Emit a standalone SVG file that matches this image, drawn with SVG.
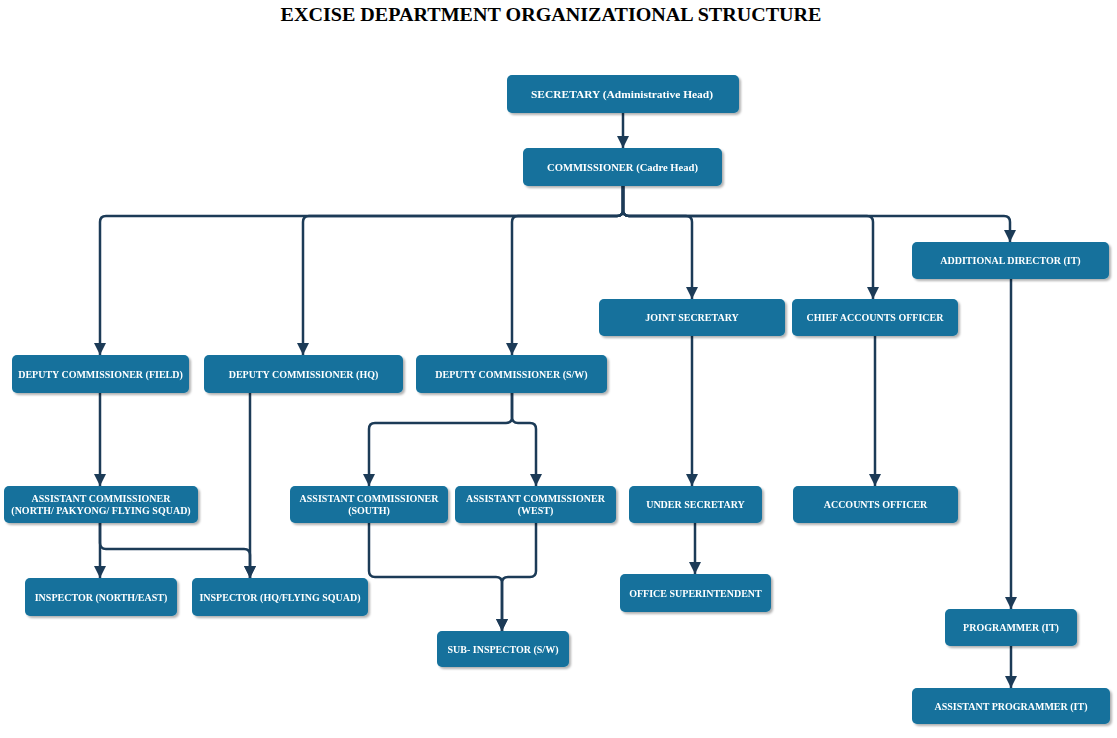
<svg xmlns="http://www.w3.org/2000/svg" width="1117" height="738" viewBox="0 0 1117 738">
<style>
.box{fill:#13719c;}
.lbl{font-family:"Liberation Serif","Times New Roman",serif;font-weight:bold;font-size:10px;fill:#ffffff;text-anchor:middle;}
.title{font-family:"Liberation Serif","Times New Roman",serif;font-weight:bold;font-size:19px;fill:#000;text-anchor:middle;}
.edge{fill:none;stroke:#1c3b57;stroke-width:2.5;marker-end:url(#arr);}
</style>
<defs>
<marker id="arr" markerUnits="userSpaceOnUse" markerWidth="12" markerHeight="12" viewBox="0 0 10 10" refX="10" refY="5" orient="auto">
<path d="M0,0 L10,5 L0,10 z" fill="#1c3b57"/>
</marker>
<filter id="sh" x="-10%" y="-20%" width="120%" height="150%">
<feDropShadow dx="2" dy="2" stdDeviation="1.2" flood-color="#000" flood-opacity="0.3"/>
</filter>
</defs>
<rect width="1117" height="738" fill="#ffffff"/>
<text class="title" x="551" y="21" textLength="541" lengthAdjust="spacingAndGlyphs">EXCISE DEPARTMENT ORGANIZATIONAL STRUCTURE</text>

<g id="connectors">
<path class="edge" d="M623,113 V148"/>
<path class="edge" d="M623,186 V210 Q623,216 617,216 H106 Q100,216 100,222 V355"/>
<path class="edge" d="M623,186 V210 Q623,216 617,216 H309 Q303,216 303,222 V355"/>
<path class="edge" d="M623,186 V210 Q623,216 617,216 H518 Q512,216 512,222 V355"/>
<path class="edge" d="M623,186 V210 Q623,216 629,216 H686 Q692,216 692,222 V299"/>
<path class="edge" d="M623,186 V210 Q623,216 629,216 H867 Q873,216 873,222 V299"/>
<path class="edge" d="M623,186 V210 Q623,216 629,216 H1004 Q1010,216 1010,222 V242"/>
<path class="edge" d="M100,393 V486"/>
<path class="edge" d="M250,393 V578"/>
<path class="edge" d="M100,523 V578"/>
<path class="edge" d="M100,523 V543 Q100,549 106,549 H244 Q250,549 250,555 V578"/>
<path class="edge" d="M512,393 V417 Q512,423 506,423 H375 Q369,423 369,429 V486"/>
<path class="edge" d="M512,393 V417 Q512,423 518,423 H530 Q536,423 536,429 V486"/>
<path class="edge" d="M369,523 V571 Q369,577 375,577 H496 Q502,577 502,583 V631"/>
<path class="edge" d="M536,523 V571 Q536,577 530,577 H508 Q502,577 502,583 V631"/>
<path class="edge" d="M692,336 V486"/>
<path class="edge" d="M695,523 V574"/>
<path class="edge" d="M875,336 V486"/>
<path class="edge" d="M1011,279 V609"/>
<path class="edge" d="M1011,646 V688"/>
</g>

<g id="secretary" filter="url(#sh)"><rect class="box" x="507" y="75" width="232" height="38" rx="5"/><text class="lbl" x="622" y="97.5" textLength="182" lengthAdjust="spacingAndGlyphs">SECRETARY (Administrative Head)</text></g>
<g id="commissioner" filter="url(#sh)"><rect class="box" x="523" y="148" width="199" height="38" rx="5"/><text class="lbl" x="622.5" y="170.5" textLength="151" lengthAdjust="spacingAndGlyphs">COMMISSIONER (Cadre Head)</text></g>
<g id="dc_field" filter="url(#sh)"><rect class="box" x="12" y="355" width="177" height="38" rx="5"/><text class="lbl" x="100.5" y="377.5">DEPUTY COMMISSIONER (FIELD)</text></g>
<g id="dc_hq" filter="url(#sh)"><rect class="box" x="204" y="355" width="199" height="38" rx="5"/><text class="lbl" x="303.5" y="377.5">DEPUTY COMMISSIONER (HQ)</text></g>
<g id="dc_sw" filter="url(#sh)"><rect class="box" x="416" y="355" width="191" height="38" rx="5"/><text class="lbl" x="511.5" y="377.5">DEPUTY COMMISSIONER (S/W)</text></g>
<g id="joint_secretary" filter="url(#sh)"><rect class="box" x="599" y="299" width="186" height="37" rx="5"/><text class="lbl" x="692" y="321">JOINT SECRETARY</text></g>
<g id="chief_accounts" filter="url(#sh)"><rect class="box" x="792" y="299" width="166" height="37" rx="5"/><text class="lbl" x="875" y="321">CHIEF ACCOUNTS OFFICER</text></g>
<g id="additional_director" filter="url(#sh)"><rect class="box" x="912" y="242" width="197" height="37" rx="5"/><text class="lbl" x="1010.5" y="264">ADDITIONAL DIRECTOR (IT)</text></g>
<g id="ac_north" filter="url(#sh)"><rect class="box" x="4" y="486" width="194" height="37" rx="5"/><text class="lbl" x="101" y="502">ASSISTANT COMMISSIONER</text><text class="lbl" x="101" y="514">(NORTH/ PAKYONG/ FLYING SQUAD)</text></g>
<g id="ac_south" filter="url(#sh)"><rect class="box" x="290" y="486" width="158" height="37" rx="5"/><text class="lbl" x="369" y="502">ASSISTANT COMMISSIONER</text><text class="lbl" x="369" y="514">(SOUTH)</text></g>
<g id="ac_west" filter="url(#sh)"><rect class="box" x="455" y="486" width="161" height="37" rx="5"/><text class="lbl" x="535.5" y="502">ASSISTANT COMMISSIONER</text><text class="lbl" x="535.5" y="514">(WEST)</text></g>
<g id="under_secretary" filter="url(#sh)"><rect class="box" x="629" y="486" width="133" height="37" rx="5"/><text class="lbl" x="695.5" y="508">UNDER SECRETARY</text></g>
<g id="accounts_officer" filter="url(#sh)"><rect class="box" x="793" y="486" width="165" height="37" rx="5"/><text class="lbl" x="875.5" y="508">ACCOUNTS OFFICER</text></g>
<g id="inspector_ne" filter="url(#sh)"><rect class="box" x="25" y="578" width="152" height="38" rx="5"/><text class="lbl" x="101" y="600.5">INSPECTOR (NORTH/EAST)</text></g>
<g id="inspector_hq" filter="url(#sh)"><rect class="box" x="192" y="578" width="176" height="38" rx="5"/><text class="lbl" x="280" y="600.5">INSPECTOR (HQ/FLYING SQUAD)</text></g>
<g id="sub_inspector" filter="url(#sh)"><rect class="box" x="437" y="631" width="132" height="36" rx="5"/><text class="lbl" x="503" y="652.5">SUB- INSPECTOR (S/W)</text></g>
<g id="office_superintendent" filter="url(#sh)"><rect class="box" x="620" y="574" width="151" height="38" rx="5"/><text class="lbl" x="695.5" y="596.5">OFFICE SUPERINTENDENT</text></g>
<g id="programmer" filter="url(#sh)"><rect class="box" x="945" y="609" width="132" height="37" rx="5"/><text class="lbl" x="1011" y="631">PROGRAMMER (IT)</text></g>
<g id="asst_programmer" filter="url(#sh)"><rect class="box" x="912" y="688" width="198" height="36" rx="5"/><text class="lbl" x="1011" y="709.5">ASSISTANT PROGRAMMER (IT)</text></g>
</svg>
